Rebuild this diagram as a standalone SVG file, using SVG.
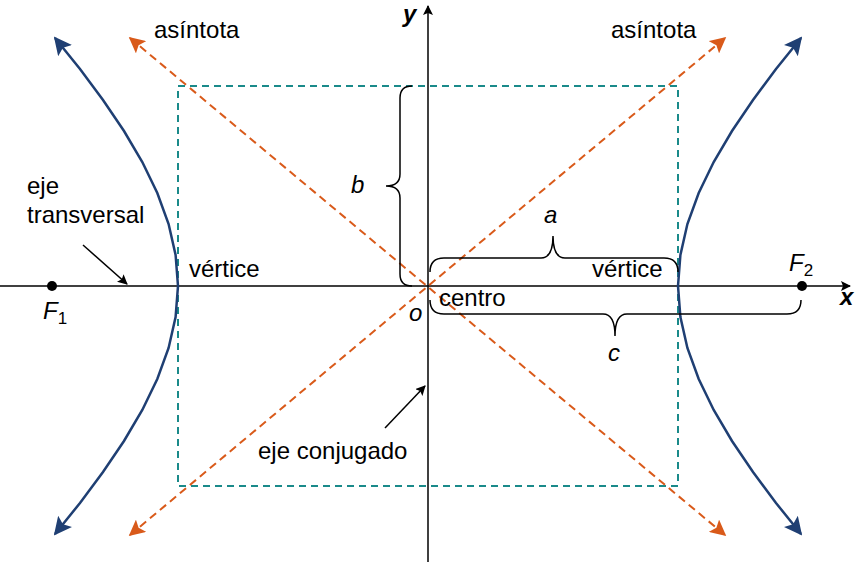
<svg xmlns="http://www.w3.org/2000/svg" width="856" height="564" viewBox="0 0 856 564">
<style>
text{font-family:"Liberation Sans",Arial,sans-serif;font-size:24px;fill:#000}
.i{font-style:italic}
.b{font-weight:bold}
.ax{stroke:#000;stroke-width:1.5;fill:none}
.asy{stroke:#d95a1a;stroke-width:2;stroke-dasharray:8,5;fill:none}
.hyp{stroke:#1f3f73;stroke-width:2.5;fill:none}
.br{stroke:#000;stroke-width:1.5;fill:none}
</style>
<defs>
<marker id="ab" viewBox="0 0 10 10" refX="9" refY="5" markerWidth="10" markerHeight="10" markerUnits="userSpaceOnUse" orient="auto-start-reverse"><path d="M0,0L10,5L0,10L2,5z" fill="#000"/></marker>
<marker id="ao" viewBox="0 0 10 10" refX="9" refY="5" markerWidth="16" markerHeight="16" markerUnits="userSpaceOnUse" orient="auto-start-reverse"><path d="M0,0L10,5L0,10L2,5z" fill="#d95a1a"/></marker>
<marker id="an" viewBox="0 0 10 10" refX="9" refY="5" markerWidth="18" markerHeight="18" markerUnits="userSpaceOnUse" orient="auto-start-reverse"><path d="M0,0L10,5L0,10L2,5z" fill="#1f3f73"/></marker>
</defs>
<g id="box"><rect x="178" y="86" width="500" height="400" fill="none" stroke="#1a8a8a" stroke-width="2" stroke-dasharray="7,5"/></g>
<g id="connectors">
<line class="ax" x1="0" y1="286" x2="850" y2="286" marker-end="url(#ab)"/>
<line class="ax" x1="428" y1="562" x2="428" y2="6" marker-end="url(#ab)"/>
<line class="asy" x1="130" y1="38" x2="725" y2="535" marker-start="url(#ao)" marker-end="url(#ao)"/>
<line class="asy" x1="130" y1="535" x2="725" y2="38" marker-start="url(#ao)" marker-end="url(#ao)"/>
<polyline class="hyp" marker-start="url(#an)" marker-end="url(#an)" points="55,38 80,69 103,100 124,131 142.3,162 157.3,193 168.6,224 175.6,255 178,286 175.6,317 168.6,348 157.3,379 142.3,410 124,441 103,472 80,503 55,534"/>
<polyline class="hyp" marker-start="url(#an)" marker-end="url(#an)" points="801,38 776,69 753,100 732,131 713.7,162 698.7,193 687.4,224 680.4,255 678,286 680.4,317 687.4,348 698.7,379 713.7,410 732,441 753,472 776,503 801,534"/>
<line class="ax" x1="83" y1="245" x2="127" y2="284" marker-end="url(#ab)"/>
<line class="ax" x1="385" y1="428" x2="425" y2="386" marker-end="url(#ab)"/>
<path class="br" d="M412,86 Q400,86 400,98 L400,174 Q400,186 386,186 Q400,186 400,198 L400,274 Q400,286 412,286"/>
<path class="br" d="M430,272 Q430,258 444,258 L541,258 Q553,258 553,236 Q553,258 565,258 L664,258 Q678,258 678,272"/>
<path class="br" d="M430,300 Q430,314 444,314 L603,314 Q615,314 615,336 Q615,314 627,314 L787,314 Q801,314 801,300"/>
</g>
<g id="foci"><circle cx="52" cy="286" r="5"/><circle cx="802" cy="286" r="5"/></g>
<g id="labels">
<text x="154" y="38">asíntota</text>
<text x="611" y="38">asíntota</text>
<text x="403" y="22" class="i b">y</text>
<text x="840" y="305" class="i b">x</text>
<text x="351" y="193" class="i">b</text>
<text x="544" y="223" class="i">a</text>
<text x="608" y="361" class="i">c</text>
<text x="189" y="277">vértice</text>
<text x="592" y="277">vértice</text>
<text x="439" y="306">centro</text>
<text x="409" y="321" class="i">o</text>
<text x="27" y="194">eje</text>
<text x="27" y="223">transversal</text>
<text x="258" y="459">eje conjugado</text>
<text x="43" y="319" class="i">F<tspan style="font-style:normal;font-size:17px" dy="5">1</tspan></text>
<text x="789" y="271" class="i">F<tspan style="font-style:normal;font-size:17px" dy="5">2</tspan></text>
</g>
</svg>
